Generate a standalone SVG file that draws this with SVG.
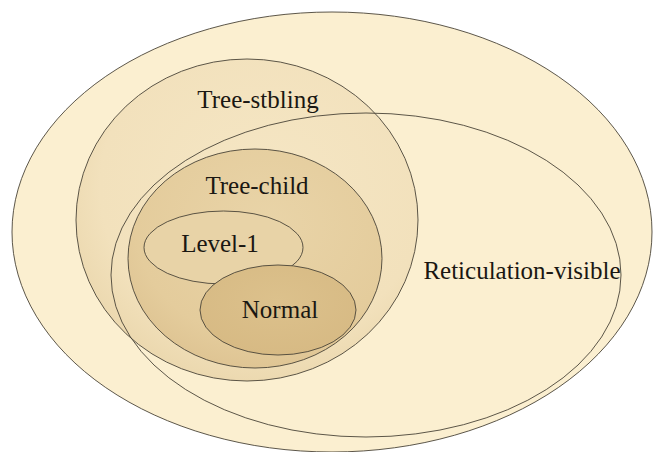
<svg xmlns="http://www.w3.org/2000/svg" width="656" height="452" viewBox="0 0 656 452">
  <defs>
    <radialGradient id="gSibling" cx="0.55" cy="0.4" r="0.6">
      <stop offset="0" stop-color="#f5e6c4"/>
      <stop offset="0.8" stop-color="#f2e1bc"/>
      <stop offset="1" stop-color="#ecd9b0"/>
    </radialGradient>
    <radialGradient id="gChild" cx="0.55" cy="0.35" r="0.65">
      <stop offset="0" stop-color="#e9d4a8"/>
      <stop offset="0.8" stop-color="#e4cc9c"/>
      <stop offset="1" stop-color="#dfc594"/>
    </radialGradient>
    <radialGradient id="gNormal" cx="0.5" cy="0.4" r="0.6">
      <stop offset="0" stop-color="#dcc18c"/>
      <stop offset="1" stop-color="#d7ba84"/>
    </radialGradient>
  </defs>
  <style>
    .set { stroke: #4a4438; stroke-width: 0.9; }
    .label { font-family: "Liberation Serif", "DejaVu Serif", serif; font-size: 25px; fill: #1a1712; text-anchor: middle; }
  </style>
  <rect width="656" height="452" fill="#ffffff"/>
  <!-- Outer class -->
  <g id="outer">
    <ellipse class="set" cx="332" cy="232" rx="320" ry="220" fill="#fbefd0"/>
  </g>
  <!-- Tree-sibling networks -->
  <g id="tree-sibling">
    <ellipse class="set" cx="247" cy="220" rx="171" ry="161" fill="url(#gSibling)"/>
    <text class="label" x="258" y="108">Tree-stbling</text>
  </g>
  <!-- Reticulation-visible networks (outline only) -->
  <g id="reticulation-visible">
    <ellipse class="set" cx="366" cy="275" rx="255" ry="162" fill="none"/>
    <text class="label" x="522" y="279">Reticulation-visible</text>
  </g>
  <!-- Tree-child networks -->
  <g id="tree-child">
    <ellipse class="set" cx="255" cy="258.5" rx="127" ry="109.5" fill="url(#gChild)"/>
    <text class="label" x="257" y="194">Tree-child</text>
  </g>
  <!-- Level-1 networks -->
  <g id="level-1">
    <ellipse class="set" cx="223.5" cy="247.5" rx="79.5" ry="36.5" fill="#e8d3a7"/>
    <text class="label" x="220" y="252">Level-1</text>
  </g>
  <!-- Normal networks -->
  <g id="normal">
    <ellipse class="set" cx="278" cy="310" rx="78" ry="45" fill="url(#gNormal)"/>
    <text class="label" x="280" y="318">Normal</text>
  </g>
</svg>
